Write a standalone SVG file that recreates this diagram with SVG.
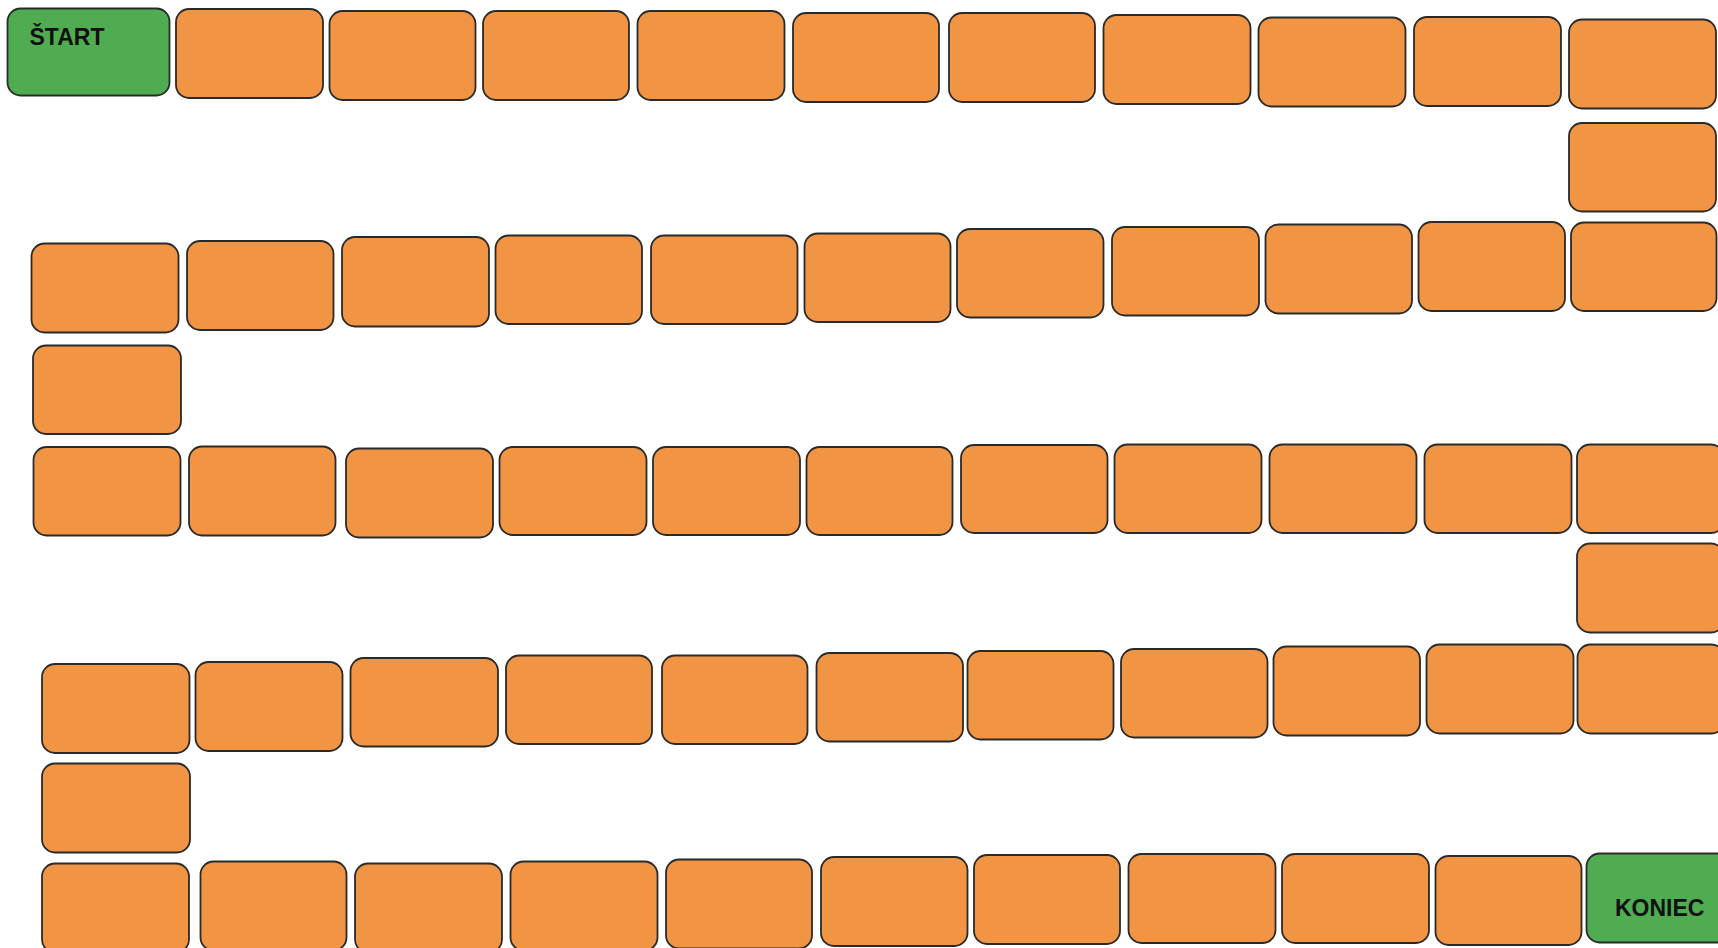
<svg xmlns="http://www.w3.org/2000/svg" width="1718" height="948" viewBox="0 0 1718 948">
<style>
  .c{fill:#F19545;stroke:#2a2a2a;stroke-width:1.8}
  .g{fill:#4FAC50;stroke:#2a2a2a;stroke-width:1.8}
  .t{font-family:"Liberation Sans",Arial,sans-serif;font-weight:bold;font-size:23px;fill:#111}
</style>
<rect width="1718" height="948" fill="#ffffff"/>
<g id="connectors"/>
<g id="row1">
  <g id="start"><rect class="g" x="7.5" y="8.5" width="162" height="87" rx="13"/><text class="t" x="29.5" y="45">ŠTART</text></g>
  <g id="r1c2"><rect class="c" x="176" y="9" width="147" height="89" rx="13"/></g>
  <g id="r1c3"><rect class="c" x="329.5" y="11" width="146" height="89" rx="13"/></g>
  <g id="r1c4"><rect class="c" x="483" y="11" width="146" height="89" rx="13"/></g>
  <g id="r1c5"><rect class="c" x="637.5" y="11" width="147" height="89" rx="13"/></g>
  <g id="r1c6"><rect class="c" x="793" y="13" width="146" height="89" rx="13"/></g>
  <g id="r1c7"><rect class="c" x="949" y="13" width="146" height="89" rx="13"/></g>
  <g id="r1c8"><rect class="c" x="1103.5" y="15" width="147" height="89" rx="13"/></g>
  <g id="r1c9"><rect class="c" x="1258.5" y="17.5" width="147" height="89" rx="13"/></g>
  <g id="r1c10"><rect class="c" x="1414" y="17" width="147" height="89" rx="13"/></g>
  <g id="r1c11"><rect class="c" x="1569" y="19.5" width="147" height="89" rx="13"/></g>
  <g id="v1"><rect class="c" x="1569" y="123" width="147" height="88.5" rx="13"/></g>
</g>
<g id="row2">
  <g id="r2c1"><rect class="c" x="31.5" y="243.5" width="147" height="89" rx="13"/></g>
  <g id="r2c2"><rect class="c" x="187" y="241" width="146.5" height="89" rx="13"/></g>
  <g id="r2c3"><rect class="c" x="342" y="237" width="147" height="89.5" rx="13"/></g>
  <g id="r2c4"><rect class="c" x="495.5" y="235.5" width="146.5" height="88.5" rx="13"/></g>
  <g id="r2c5"><rect class="c" x="651" y="235.5" width="146.5" height="88.5" rx="13"/></g>
  <g id="r2c6"><rect class="c" x="804.5" y="233.5" width="146" height="88.5" rx="13"/></g>
  <g id="r2c7"><rect class="c" x="957" y="229" width="146.5" height="88.5" rx="13"/></g>
  <g id="r2c8"><rect class="c" x="1112" y="227" width="147" height="88.5" rx="13"/></g>
  <g id="r2c9"><rect class="c" x="1265.5" y="224.5" width="146.5" height="89" rx="13"/></g>
  <g id="r2c10"><rect class="c" x="1418.5" y="222" width="146.5" height="89" rx="13"/></g>
  <g id="r2c11"><rect class="c" x="1571" y="222.5" width="145.5" height="88.5" rx="13"/></g>
  <g id="v2"><rect class="c" x="33" y="345.5" width="148" height="88.5" rx="13"/></g>
</g>
<g id="row3">
  <g id="r3c1"><rect class="c" x="33.5" y="447" width="147" height="88.5" rx="13"/></g>
  <g id="r3c2"><rect class="c" x="189" y="446.5" width="146.5" height="89" rx="13"/></g>
  <g id="r3c3"><rect class="c" x="346" y="448.5" width="147" height="89" rx="13"/></g>
  <g id="r3c4"><rect class="c" x="499.5" y="447" width="147" height="88" rx="13"/></g>
  <g id="r3c5"><rect class="c" x="653" y="447" width="147" height="88" rx="13"/></g>
  <g id="r3c6"><rect class="c" x="806.5" y="447" width="146" height="88" rx="13"/></g>
  <g id="r3c7"><rect class="c" x="961" y="445" width="146.5" height="88" rx="13"/></g>
  <g id="r3c8"><rect class="c" x="1114.5" y="444.5" width="147" height="88.5" rx="13"/></g>
  <g id="r3c9"><rect class="c" x="1269.5" y="444.5" width="147" height="88.5" rx="13"/></g>
  <g id="r3c10"><rect class="c" x="1424.5" y="444.5" width="147" height="88.5" rx="13"/></g>
  <g id="r3c11"><rect class="c" x="1577" y="444.5" width="147" height="88.5" rx="13"/></g>
  <g id="v3"><rect class="c" x="1577" y="543.5" width="147" height="89" rx="13"/></g>
</g>
<g id="row4">
  <g id="r4c1"><rect class="c" x="42" y="664" width="147.5" height="89" rx="13"/></g>
  <g id="r4c2"><rect class="c" x="195.5" y="662" width="147" height="89" rx="13"/></g>
  <g id="r4c3"><rect class="c" x="350.5" y="658" width="147.5" height="88.5" rx="13"/></g>
  <g id="r4c4"><rect class="c" x="506" y="655.5" width="146" height="88.5" rx="13"/></g>
  <g id="r4c5"><rect class="c" x="662" y="655.5" width="145.5" height="88.5" rx="13"/></g>
  <g id="r4c6"><rect class="c" x="816.5" y="653" width="146.5" height="88.5" rx="13"/></g>
  <g id="r4c7"><rect class="c" x="967.5" y="651" width="146" height="88.5" rx="13"/></g>
  <g id="r4c8"><rect class="c" x="1121" y="649" width="146.5" height="88.5" rx="13"/></g>
  <g id="r4c9"><rect class="c" x="1273.5" y="646.5" width="146.5" height="89" rx="13"/></g>
  <g id="r4c10"><rect class="c" x="1426.5" y="644.5" width="147" height="89" rx="13"/></g>
  <g id="r4c11"><rect class="c" x="1577.5" y="644.5" width="147" height="89" rx="13"/></g>
  <g id="v4"><rect class="c" x="42" y="763.5" width="148" height="89" rx="13"/></g>
</g>
<g id="row5">
  <g id="r5c1"><rect class="c" x="42" y="863.5" width="147" height="89" rx="13"/></g>
  <g id="r5c2"><rect class="c" x="200.5" y="861.5" width="146" height="89" rx="13"/></g>
  <g id="r5c3"><rect class="c" x="355" y="863.5" width="147" height="89" rx="13"/></g>
  <g id="r5c4"><rect class="c" x="510.5" y="861.5" width="147" height="89" rx="13"/></g>
  <g id="r5c5"><rect class="c" x="666" y="859.5" width="146" height="89" rx="13"/></g>
  <g id="r5c6"><rect class="c" x="821" y="857" width="146.5" height="89" rx="13"/></g>
  <g id="r5c7"><rect class="c" x="974" y="855" width="146" height="89" rx="13"/></g>
  <g id="r5c8"><rect class="c" x="1128.5" y="854" width="147" height="89" rx="13"/></g>
  <g id="r5c9"><rect class="c" x="1282" y="854" width="147" height="89" rx="13"/></g>
  <g id="r5c10"><rect class="c" x="1435.5" y="856" width="146" height="89" rx="13"/></g>
  <g id="koniec"><rect class="g" x="1586.5" y="853.5" width="147" height="89" rx="13"/><text class="t" x="1615" y="916">KONIEC</text></g>
</g>
</svg>
